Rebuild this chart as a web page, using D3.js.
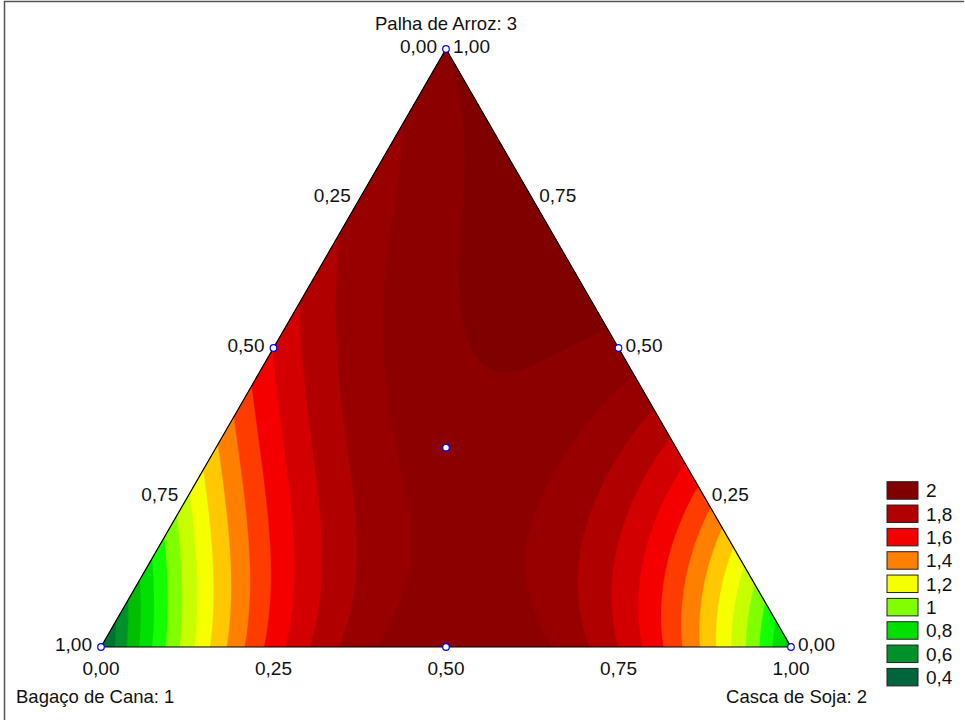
<!DOCTYPE html>
<html>
<head>
<meta charset="utf-8">
<script src="https://cdn.jsdelivr.net/npm/d3@7"></script>
<style>
  body { margin: 0; background: #fff; }
  svg { display: block; font-family: "Liberation Sans", Arial, sans-serif; }
</style>
</head>
<body>
<svg id="chart" width="965" height="720"></svg>
<script>
// Mixture components, vertex order: 1 bottom-left, 2 bottom-right, 3 top
const componentNames = ["Bagaço de Cana: 1", "Casca de Soja: 2", "Palha de Arroz: 3"];

// Fitted mixture model (Scheffé polynomial)
const linearCoef = [0.48, 0.75, 2.10];        // b1, b2, b3
const binaryCoef = [5.90, 1.65, 2.55];        // b12, b13, b23
const cubicDiffCoef = [-0.1, 0.3, 0.2];       // d12, d13, d23   xi*xj*(xi-xj)
const quarticCoef = [0.0, -0.9, -0.8];        // e12, e13, e23   xi*xj*(xi-xj)^2
const ternaryCoef = [-3.5, -7.5, -3.5];       // x1*x2*x3*(t1*x1 + t2*x2 + t3*x3)

// Simplex-centroid design points (x1, x2, x3)
const designPoints = [
  [1, 0, 0], [0, 1, 0], [0, 0, 1],
  [0.5, 0.5, 0], [0.5, 0, 0.5], [0, 0.5, 0.5],
  [1 / 3, 1 / 3, 1 / 3]
];

// Contour levels and fill colour of the band starting at each level
const contourLevels = [0.5, 0.6, 0.7, 0.8, 0.9, 1.0, 1.1, 1.2, 1.3, 1.4, 1.5, 1.6, 1.7, 1.8, 1.9, 2.0, 2.1];
const bandColors = ["#007332", "#00912a", "#00be00", "#00e000", "#14ff00", "#80ff00", "#c8ff00", "#f5ff00",
                    "#ffc800", "#ff8000", "#ff3c00", "#f50000", "#d20000", "#b00000", "#980000", "#8c0000", "#800000"];
const lowColor = "#00643c";

// Legend entries
const legendLabels = [2, 1.8, 1.6, 1.4, 1.2, 1, 0.8, 0.6, 0.4];
const legendColors = ["#800000", "#b00000", "#f50000", "#ff8000", "#f5ff00", "#80ff00", "#00e000", "#00912a", "#00643c"];

// Axis tick values
const tickValues = [0, 0.25, 0.5, 0.75, 1];

const svg = d3.select("#chart");
const locale = d3.formatLocale({ decimal: ",", thousands: ".", grouping: [3], currency: ["", ""] });
const fmtTick = locale.format(".2f");
const fmtLegend = v => String(v).replace(".", ",");

// Ternary -> pixel scales: horizontal uses x2 + x3/2, vertical uses x3
const sx = d3.scaleLinear().domain([0, 1]).range([101, 791]);
const sy = d3.scaleLinear().domain([0, 1]).range([647, 49]);
const toXY = p => [sx(p[1] + p[2] / 2), sy(p[2])];

function pairTerm(xi, xj, k) {
  const diff = xi - xj;
  return xi * xj * (binaryCoef[k] + cubicDiffCoef[k] * diff + quarticCoef[k] * diff * diff);
}
function model(x1, x2, x3) {
  return linearCoef[0] * x1 + linearCoef[1] * x2 + linearCoef[2] * x3
    + pairTerm(x1, x2, 0) + pairTerm(x1, x3, 1) + pairTerm(x2, x3, 2)
    + x1 * x2 * x3 * (ternaryCoef[0] * x1 + ternaryCoef[1] * x2 + ternaryCoef[2] * x3);
}

// Sample the response on a pixel grid covering the triangle
const x0 = 99, y0 = 47, nx = 696, ny = 604;
const values = new Float64Array(nx * ny);
for (let j = 0; j < ny; j++) {
  const x3 = sy.invert(y0 + j + 0.5);
  for (let i = 0; i < nx; i++) {
    const x2 = sx.invert(x0 + i + 0.5) - x3 / 2;
    values[j * nx + i] = model(1 - x2 - x3, x2, x3);
  }
}

const tri = [[1, 0, 0], [0, 1, 0], [0, 0, 1]].map(toXY);
const triPath = "M" + tri.map(p => p.join(",")).join("L") + "Z";
svg.append("defs").append("clipPath").attr("id", "triClip").append("path").attr("d", triPath);

const plot = svg.append("g").attr("clip-path", "url(#triClip)");
plot.append("path").attr("d", triPath).attr("fill", lowColor);

const contours = d3.contours().size([nx, ny]).thresholds(contourLevels)(values);
const path = d3.geoPath(d3.geoIdentity().translate([x0, y0]));
const colorOf = d3.scaleOrdinal().domain(contourLevels).range(bandColors);
plot.selectAll("path.band").data(contours).join("path")
  .attr("class", "band")
  .attr("d", path)
  .attr("fill", d => colorOf(d.value))
  .attr("stroke", d => colorOf(d.value))
  .attr("stroke-width", 0.4);

// Triangle outline
svg.append("path").attr("d", triPath)
  .attr("fill", "none").attr("stroke", "#000").attr("stroke-width", 1.2);

// Design points
svg.selectAll("circle.pt").data(designPoints).join("circle")
  .attr("class", "pt")
  .attr("cx", d => toXY(d)[0]).attr("cy", d => toXY(d)[1])
  .attr("r", 3.3).attr("fill", "#fff").attr("stroke", "#0000ff").attr("stroke-width", 1.2);

const tickFs = 19, titleFs = 18.5;
const txt = svg.append("g").attr("fill", "#111");

// Left edge: Bagaço share (x1), 0 at top, 1 at bottom-left
txt.selectAll("text.left").data(tickValues).join("text")
  .attr("class", "left").attr("font-size", tickFs)
  .attr("x", d => toXY([d, 0, 1 - d])[0] - 9)
  .attr("y", d => toXY([d, 0, 1 - d])[1] - 3)
  .attr("dy", "0.35em").attr("text-anchor", "end")
  .text(d => fmtTick(d));

// Right edge: Palha share (x3), 1 at top, 0 at bottom-right
txt.selectAll("text.right").data(tickValues).join("text")
  .attr("class", "right").attr("font-size", tickFs)
  .attr("x", d => toXY([0, 1 - d, d])[0] + 7)
  .attr("y", d => toXY([0, 1 - d, d])[1] - 3)
  .attr("dy", "0.35em").attr("text-anchor", "start")
  .text(d => fmtTick(d));

// Bottom edge: Casca share (x2)
txt.selectAll("text.bottom").data(tickValues).join("text")
  .attr("class", "bottom").attr("font-size", tickFs)
  .attr("x", d => toXY([1 - d, d, 0])[0])
  .attr("y", 675)
  .attr("text-anchor", "middle")
  .text(d => fmtTick(d));

// Component titles
const titles = txt.append("g").attr("font-size", titleFs);
titles.append("text").attr("x", 446).attr("y", 30).attr("text-anchor", "middle").text(componentNames[2]);
titles.append("text").attr("x", 16).attr("y", 703).attr("text-anchor", "start").text(componentNames[0]);
titles.append("text").attr("x", 867).attr("y", 703).attr("text-anchor", "end").text(componentNames[1]);

// Legend
const lg = svg.append("g");
const lgY = d3.scaleBand().domain(legendLabels).range([481.7, 685.9]).paddingInner(0.25);
lg.selectAll("rect").data(legendLabels).join("rect")
  .attr("x", 887).attr("y", d => lgY(d))
  .attr("width", 31).attr("height", lgY.bandwidth())
  .attr("fill", (d, i) => legendColors[i])
  .attr("stroke", "#222").attr("stroke-width", 1);
lg.selectAll("text").data(legendLabels).join("text")
  .attr("x", 926).attr("y", d => lgY(d) + lgY.bandwidth() / 2)
  .attr("dy", "0.36em").attr("font-size", tickFs).attr("fill", "#111")
  .text(d => fmtLegend(d));

// Frame
svg.append("path").attr("d", "M4.5,720V1.5H964")
  .attr("fill", "none").attr("stroke", "#555").attr("stroke-width", 1.5);
</script>
</body>
</html>
